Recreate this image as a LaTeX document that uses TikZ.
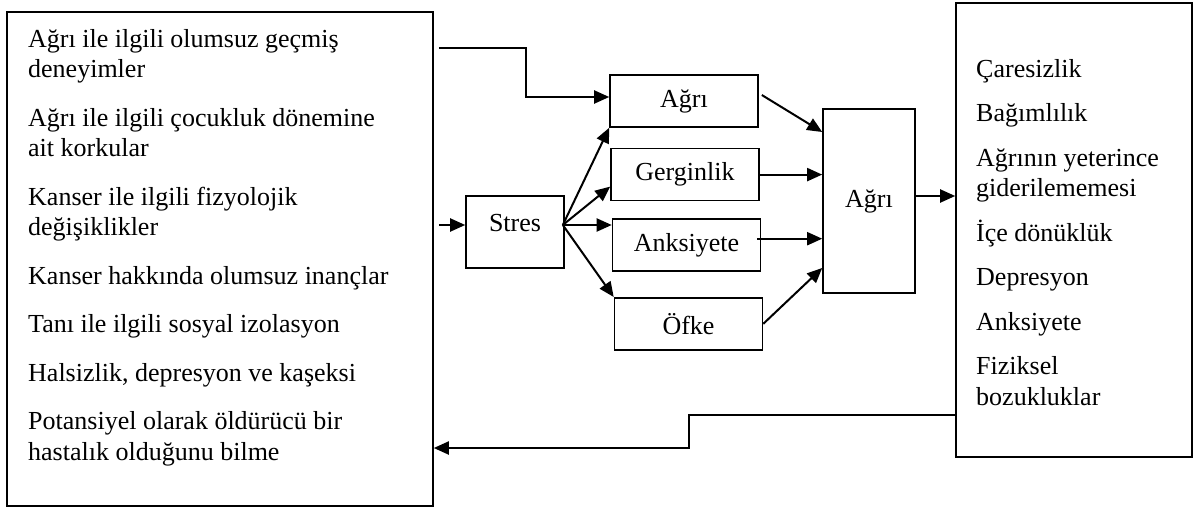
\documentclass[tikz,border=0pt]{standalone}
\usepackage{fontspec}
\setmainfont{Liberation Serif}
\usetikzlibrary{arrows.meta,positioning}

\begin{document}
\begin{tikzpicture}[
  x=1pt, y=1pt,
  every node/.style={font=\fontsize{26}{30.5}\selectfont, align=left},
  box/.style={draw, line width=1.6pt, inner sep=0pt, minimum width=148pt, minimum height=52pt, align=center},
  bigbox/.style={draw, line width=1.6pt, inner sep=0pt},
  arrow/.style={-{Triangle[length=15pt,width=13pt]}, line width=2pt}
]
  \useasboundingbox (0,0) rectangle (1198,-508);

  % Nodes
  \node (etken) [bigbox, minimum width=426pt, minimum height=494pt] at (220,-259) {};
  \node (etkenyazi) [anchor=base west, inner sep=0pt] at (28,-460)
    {Ağrı ile ilgili olumsuz geçmiş\\deneyimler\\[18pt]
     Ağrı ile ilgili çocukluk dönemine\\ait korkular\\[18pt]
     Kanser ile ilgili fizyolojik\\değişiklikler\\[18pt]
     Kanser hakkında olumsuz inançlar\\[18pt]
     Tanı ile ilgili sosyal izolasyon\\[18pt]
     Halsizlik, depresyon ve kaşeksi\\[18pt]
     Potansiyel olarak öldürücü bir\\hastalık olduğunu bilme};

  \node (stres) [box, minimum width=98pt, minimum height=72pt, text height=17pt, text depth=19pt] at (515,-232) {Stres};

  \node (agri) [box] at (684,-101) {Ağrı};
  \node (gerginlik) [box, below=20pt of agri, xshift=1pt] {Gerginlik};
  \node (anksiyete) [box, below=17pt of gerginlik, xshift=1.5pt] {Anksiyete};
  \node (ofke) [box, below=25pt of anksiyete, xshift=2pt] {Öfke};

  \node (buyuk) [box, minimum width=92pt, minimum height=184pt] at (869,-201) {Ağrı};

  \node (sonuc) [bigbox, minimum width=236pt, minimum height=454pt] at (1074,-230) {};
  \node (sonucyazi) [anchor=base west, inner sep=0pt] at (976,-405)
    {Çaresizlik\\[14pt]
     Bağımlılık\\[14pt]
     Ağrının yeterince\\giderilememesi\\[14pt]
     İçe dönüklük\\[14pt]
     Depresyon\\[14pt]
     Anksiyete\\[14pt]
     Fiziksel\\bozukluklar};

  \coordinate (sc) at ([shift={(-2,7)}]stres.east);
  \coordinate (ak) at ([shift={(-4,6.5)}]anksiyete.east);
  \coordinate (bk) at ([yshift=5]buyuk.east);

  % Paths
  \draw [arrow] ([shift={(5,-37)}]etken.north east) -- ++(87,0) |- ([yshift=4]agri.west);
  \draw [arrow] ([shift={(5,34)}]etken.east) -- ([yshift=7]stres.west);

  \draw [arrow] (sc) -- (agri.south west);
  \draw [arrow] (sc) -- ([yshift=-12]gerginlik.west);
  \draw [arrow] (sc) -- (sc -| anksiyete.west);
  \draw [arrow] (sc) -- (ofke.north west);

  \draw [arrow] ([shift={(3,6)}]agri.east) -- ([yshift=69]buyuk.west);
  \draw [arrow] (gerginlik.east) -- (gerginlik.east -| buyuk.west);
  \draw [arrow] (ak) -- (ak -| buyuk.west);
  \draw [arrow] (ofke.east) -- ([yshift=-67]buyuk.west);

  \draw [arrow] (bk) -- (bk -| sonuc.west);
  \draw [arrow] ([yshift=-185]sonuc.west) -- ++(-266,0) |- ([yshift=-189]etken.east);
\end{tikzpicture}
\end{document}
